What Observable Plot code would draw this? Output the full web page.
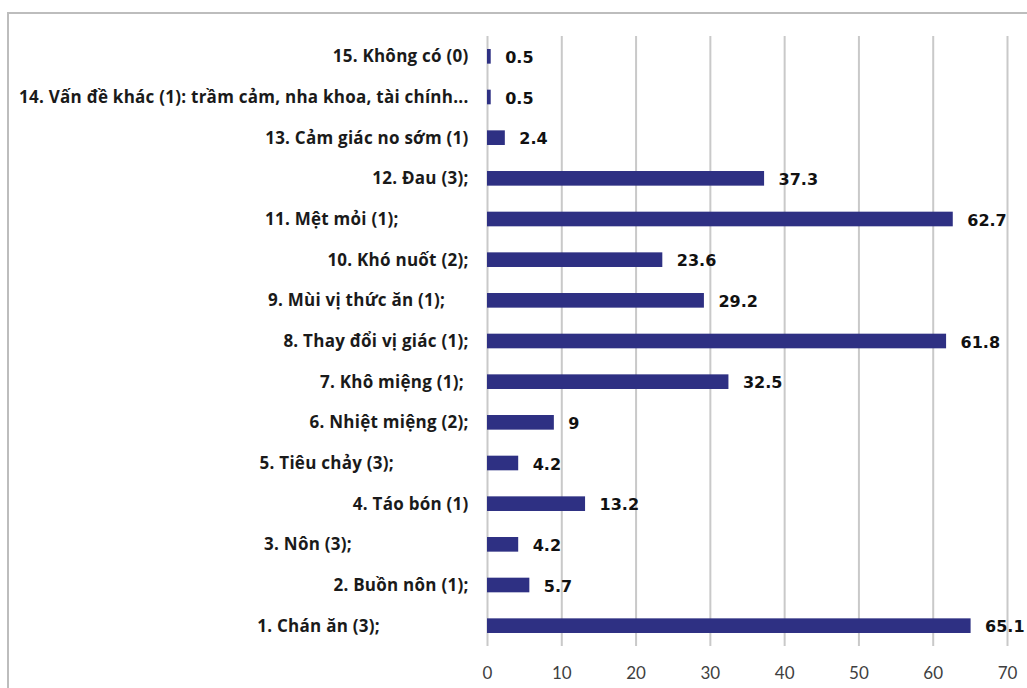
<!DOCTYPE html>
<html>
<head>
<meta charset="utf-8">
<script src="https://cdn.jsdelivr.net/npm/d3@7"></script>
<script src="https://cdn.jsdelivr.net/npm/@observablehq/plot@0.6"></script>
<style>
  html, body { margin: 0; padding: 0; background: #fff; }
  #wrap { position: relative; width: 1027px; height: 688px; overflow: hidden; }
  #frame { position: absolute; left: 7px; top: 12px; width: 1100px; height: 800px;
           border-left: 2px solid #bdbdbd; border-top: 2px solid #bdbdbd; }
  #chart { position: absolute; left: 0; top: 0; }
  /* keep the trailing spaces some category labels carry */
  #chart svg text { white-space: pre; }
  #chart g[aria-label="y-axis tick label"] text { letter-spacing: 0.25px; }
</style>
</head>
<body>
<div id="wrap">
  <div id="frame"></div>
  <div id="chart"></div>
</div>
<script>
// Symptom categories, listed top to bottom (some labels end in padding spaces)
const categories = [
  "15. Không có (0)",
  "14. Vấn đề khác (1): trầm cảm, nha khoa, tài chính...",
  "13. Cảm giác no sớm (1)",
  "12. Đau (3);",
  "11. Mệt mỏi (1);               ",
  "10. Khó nuốt (2);",
  "9. Mùi vị thức ăn (1);     ",
  "8. Thay đổi vị giác (1);",
  "7. Khô miệng (1); ",
  "6. Nhiệt miệng (2);",
  "5. Tiêu chảy (3);                ",
  "4. Táo bón (1)",
  "3. Nôn (3);                         ",
  "2. Buồn nôn (1);",
  "1. Chán ăn (3);                   "
];
// Percentage for each category, same order
const values = [0.5, 0.5, 2.4, 37.3, 62.7, 23.6, 29.2, 61.8, 32.5, 9, 4.2, 13.2, 4.2, 5.7, 65.1];
const xTicks = [0, 10, 20, 30, 40, 50, 60, 70];

const data = categories.map((c, i) => ({category: c, value: values[i]}));

const chart = Plot.plot({
  width: 1027,
  height: 688,
  marginLeft: 487,
  marginRight: 20,
  marginTop: 36,
  marginBottom: 42,
  style: {background: "transparent", fontFamily: "Lato, sans-serif"},
  x: {domain: [0, 70], ticks: xTicks},
  y: {domain: categories, paddingInner: 0.64, paddingOuter: 0.32, round: false},
  marks: [
    Plot.gridX(xTicks, {stroke: "#c9c9c9", strokeOpacity: 1, strokeWidth: 2}),
    Plot.barX(data, {x: "value", y: "category", fill: "#2e3083"}),
    Plot.text(data, {
      x: "value", y: "category", text: d => String(d.value),
      textAnchor: "start", dx: 14, dy: 1,
      fontFamily: "DejaVu Sans, sans-serif", fontWeight: "bold", fontSize: 16, fill: "#111"
    }),
    Plot.axisY({
      tickSize: 0, tickPadding: 19, label: null,
      fontFamily: "Open Sans, sans-serif", fontWeight: "bold", fontSize: 17, fill: "#1a1a1a"
    }),
    Plot.axisX({
      ticks: xTicks, tickSize: 0, tickPadding: 20, label: null,
      fontFamily: "Lato, sans-serif", fontSize: 17, fill: "#404040"
    })
  ]
});
document.getElementById("chart").appendChild(chart);
</script>
</body>
</html>
